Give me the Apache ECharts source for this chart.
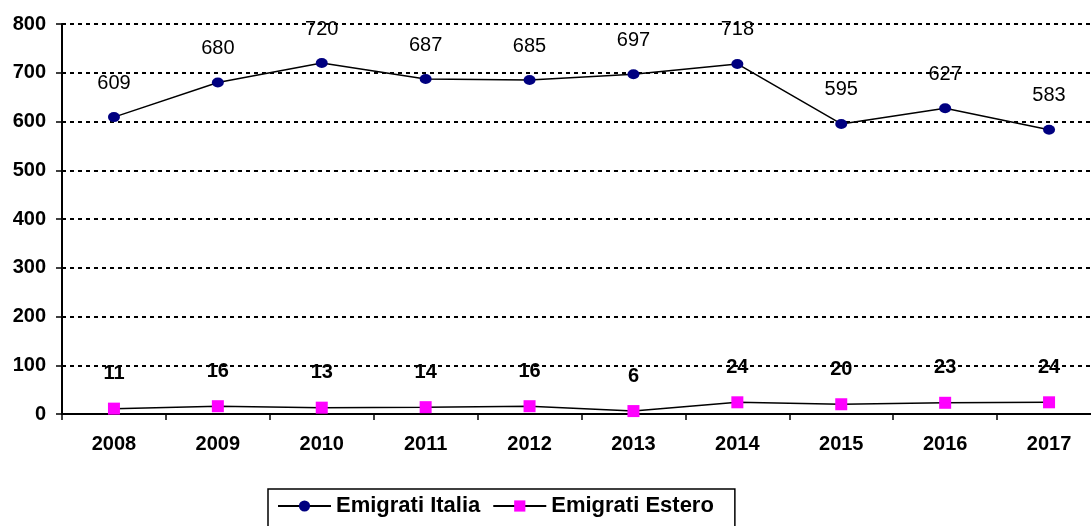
<!DOCTYPE html>
<html>
<head>
<meta charset="utf-8">
<script src="https://cdn.jsdelivr.net/npm/echarts@6/dist/echarts.min.js"></script>
<style>
html,body{margin:0;padding:0;background:#fff;}
#c{width:1091px;height:526px;}
</style>
</head>
<body>
<div id="c"></div>
<script>
const years = ['2008','2009','2010','2011','2012','2013','2014','2015','2016','2017'];
const emigratiItalia = [609, 680, 720, 687, 685, 697, 718, 595, 627, 583];
const emigratiEstero = [11, 16, 13, 14, 16, 6, 24, 20, 23, 24];
const seriesNames = ['Emigrati Italia', 'Emigrati Estero'];

const FONT = '"Liberation Sans", Arial, sans-serif';
const chart = echarts.init(document.getElementById('c'), null, {renderer: 'canvas'});
function labelStyle(weight) {
  return {
    show: true, position: 'top', distance: 19,
    color: '#000', fontFamily: FONT, fontSize: 20, fontWeight: weight
  };
}
chart.setOption({
  animation: false,
  backgroundColor: '#fff',
  grid: {left: 62, top: 24, width: 1039, height: 390, containLabel: false, outerBoundsMode: 'none'},
  legend: {
    data: seriesNames,
    left: 268, top: 489,
    orient: 'horizontal',
    itemWidth: 53, itemHeight: 14, itemGap: 12,
    padding: [6, 21, 11, 9],
    borderColor: '#000', borderWidth: 1.5,
    textStyle: {fontFamily: FONT, fontSize: 22, fontWeight: 'bold', color: '#000', padding: [0, 0, 0, 0]}
  },
  xAxis: {
    type: 'category', data: years, boundaryGap: true,
    axisLine: {lineStyle: {color: '#000', width: 2}},
    axisTick: {show: true, length: 6, lineStyle: {color: '#000', width: 1.5}},
    axisLabel: {color: '#000', fontFamily: FONT, fontSize: 20, fontWeight: 'bold', margin: 20},
    splitLine: {show: false}
  },
  yAxis: {
    type: 'value', min: 0, max: 800, interval: 100,
    axisLine: {show: true, lineStyle: {color: '#000', width: 2}},
    axisTick: {show: true, length: 6, lineStyle: {color: '#000', width: 1.5}},
    axisLabel: {color: '#000', fontFamily: FONT, fontSize: 20, fontWeight: 'bold', margin: 16},
    splitLine: {show: true, lineStyle: {color: '#000', width: 2, type: [4, 4]}}
  },
  series: [
    {
      name: seriesNames[0], type: 'line', data: emigratiItalia,
      symbol: 'circle', symbolSize: [12, 10],
      itemStyle: {color: '#000080'},
      lineStyle: {color: '#000', width: 1.5},
      label: labelStyle('normal')
    },
    {
      name: seriesNames[1], type: 'line', data: emigratiEstero,
      symbol: 'rect', symbolSize: 12,
      itemStyle: {color: '#FF00FF'},
      lineStyle: {color: '#000', width: 1.5},
      label: labelStyle('bold')
    }
  ]
});
</script>
</body>
</html>
